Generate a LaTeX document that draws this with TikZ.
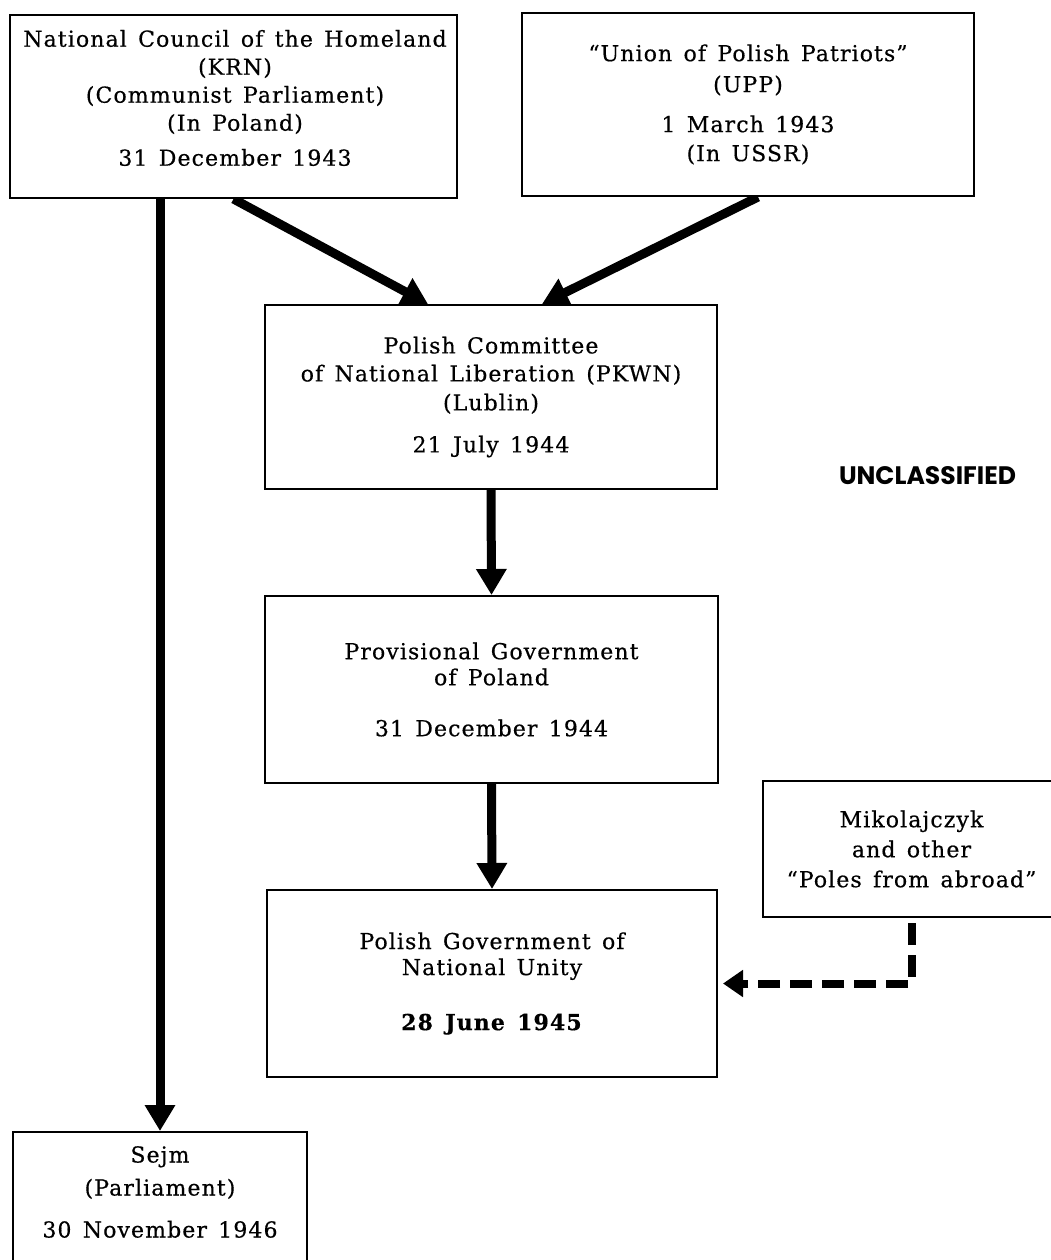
\documentclass[tikz,border=0pt]{standalone}
\usepackage{fontspec}
\usepackage{graphicx}
\setmainfont{DejaVu Serif}[LetterSpace=5,WordSpace={1.4},FakeBold=0.5]
\newfontfamily\unclfont{Poppins}
\usetikzlibrary{arrows.meta,backgrounds}
\begin{document}
\begin{tikzpicture}[x=1pt,y=-1pt,
  box/.style={draw, line width=2pt, fill=white, inner sep=0pt, align=center,
    font=\fontsize{22}{28}\selectfont},
  txt/.style={inner sep=0pt, align=center, font=\fontsize{22}{28}\selectfont},
  solidarrow/.style={line width=9pt, -{Triangle[length=26pt,width=29pt]}},
  dasharrow/.style={line width=8pt, dash pattern=on 22pt off 10pt,
    -{Triangle[length=20pt,width=26pt]}},
]
\useasboundingbox (0,0) rectangle (1050,1260);

\node[box, minimum width=447pt, minimum height=183pt] (krn) at (233.5,106.5) {};
\node[txt] (krntext) at (235,98)
  {National Council of the Homeland\\(KRN)\\(Communist Parliament)\\(In Poland)\\[7pt]31 December 1943};
\node[box, minimum width=452pt, minimum height=183pt] (upp) at (748,104.5)
  {“Union of Polish Patriots”\\[3pt](UPP)\\[12pt]1 March 1943\\[1pt](In USSR)};
\node[box, minimum width=452pt, minimum height=184pt] (pkwn) at (491,397)
  {Polish Committee\\of National Liberation (PKWN)\\[1pt](Lublin)\\[14pt]21 July 1944};
\node[box, minimum width=453pt, minimum height=187pt] (prov) at (491.5,689.5)
  {Provisional Government\\[-2pt]of Poland\\[23pt]31 December 1944};
\node[box, minimum width=450pt, minimum height=187pt] (unity) at (492,983.5)
  {Polish Government of\\[-2pt]National Unity\\[27pt]\textbf{28 June 1945}};
\node[box, minimum width=297pt, minimum height=136pt] (mik) at (911.5,849)
  {Mikolajczyk\\[2pt]and other\\[2pt]“Poles from abroad”};
\node[box, minimum width=294pt, minimum height=160pt] (sejm) at (160,1212) {};
\node[txt] (sejmtext) at (160,1192)
  {Sejm\\[5pt](Parliament)\\[14pt]30 November 1946};
\node[inner sep=0pt] (uncl) at (927.5,476)
  {\resizebox{177pt}{18pt}{\unclfont\bfseries UNCLASSIFIED}};

\begin{scope}[on background layer]
  \fill[white] (0,0) rectangle (1050,1260);
  \draw[solidarrow] (krn.south) -- ([xshift=-63pt]pkwn.north);
  \draw[solidarrow] ([xshift=10pt]upp.south) -- ([xshift=51pt]pkwn.north);
  \draw[solidarrow] (sejm.north |- krn.south) -- (sejm.north);
  \draw[solidarrow] (pkwn.south) -- (prov.north);
  \draw[solidarrow] (prov.south) -- (unity.north);
  \draw[dasharrow] ([yshift=-5pt]mik.south) |- ([xshift=5pt]unity.east);
\end{scope}
\end{tikzpicture}
\end{document}
